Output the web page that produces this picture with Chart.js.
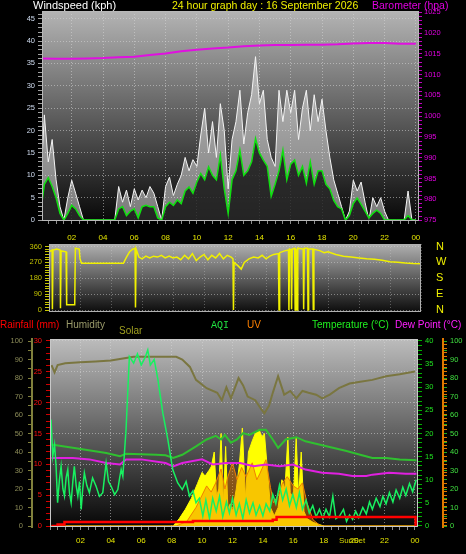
<!DOCTYPE html>
<html>
<head>
<meta charset="utf-8">
<script src="https://cdn.jsdelivr.net/npm/chart.js@4.4.1/dist/chart.umd.min.js"></script>
<style>
  html, body { margin: 0; padding: 0; background: #000; }
  #wrap { position: relative; width: 466px; height: 554px; background: #000; overflow: hidden; font-family: "Liberation Sans", Arial, sans-serif; }
  canvas { position: absolute; left: 0; }
  .t { position: absolute; white-space: nowrap; line-height: 1; }
</style>
</head>
<body>
<div id="wrap">
  <canvas id="windChart" width="466" height="246" style="top:0"></canvas>
  <canvas id="dirChart" width="466" height="88" style="top:236px"></canvas>
  <canvas id="weatherChart" width="466" height="234" style="top:320px"></canvas>

  <div class="t" style="left:33px;top:0;font-size:11px;color:#fff">Windspeed (kph)</div>
  <div class="t" style="left:172px;top:0;font-size:10.5px;color:#f0f000">24 hour graph day : 16 September 2026</div>
  <div class="t" style="left:372px;top:0;font-size:10.5px;color:#e000e0">Barometer (hpa)</div>

  <div class="t" style="left:0;top:320px;font-size:10px;color:#ff0000">Rainfall (mm)</div>
  <div class="t" style="left:66px;top:320px;font-size:10px;color:#9a9a6a">Humidity</div>
  <div class="t" style="left:119px;top:326px;font-size:10px;color:#a0a020">Solar</div>
  <div class="t" style="left:211px;top:321px;font-size:10px;color:#20e040;font-family:'Liberation Mono',monospace">AQI</div>
  <div class="t" style="left:247px;top:320px;font-size:10px;color:#ff8000">UV</div>
  <div class="t" style="left:312px;top:320px;font-size:10px;color:#20f020">Temperature (°C)</div>
  <div class="t" style="left:395px;top:320px;font-size:10px;color:#ff20ff">Dew Point (°C)</div>
  <div class="t" style="left:339px;top:537px;font-size:8px;color:#d8d800">SunSet</div>
</div>
<script>
// 15 minute steps through the day (hours)
const quarterHours = [
  0, 0.25, 0.5, 0.75, 1, 1.25, 1.5, 1.75, 2, 2.25, 2.5, 2.75,
  3, 3.25, 3.5, 3.75, 4, 4.25, 4.5, 4.75, 5, 5.25, 5.5, 5.75,
  6, 6.25, 6.5, 6.75, 7, 7.25, 7.5, 7.75, 8, 8.25, 8.5, 8.75,
  9, 9.25, 9.5, 9.75, 10, 10.25, 10.5, 10.75, 11, 11.25, 11.5, 11.75,
  12, 12.25, 12.5, 12.75, 13, 13.25, 13.5, 13.75, 14, 14.25, 14.5, 14.75,
  15, 15.25, 15.5, 15.75, 16, 16.25, 16.5, 16.75, 17, 17.25, 17.5, 17.75,
  18, 18.25, 18.5, 18.75, 19, 19.25, 19.5, 19.75, 20, 20.25, 20.5, 20.75,
  21, 21.25, 21.5, 21.75, 22, 22.25, 22.5, 22.75, 23, 23.25, 23.5, 23.75,
  24
];

// windspeed (kph)
const gustWind = [
  7, 23.5, 13, 18, 9, 3, 0, 5, 8.9, 6, 3, 0,
  0, 0, 0, 0, 0, 0, 0, 0, 7.5, 4, 6.7, 3,
  7, 4.5, 6.7, 5, 7.5, 6, 3, 0, 7.5, 9.6, 5.5, 8,
  10, 14, 11, 13.5, 12, 19, 25, 15, 22, 14, 26, 20,
  7, 18, 22, 29, 17, 24, 28, 36.5, 26, 29, 18, 14,
  12, 29, 22, 29, 24, 29, 18, 25, 29, 20, 28, 22,
  27, 20, 14, 9, 6, 3, 0, 2, 8.9, 6.5, 8.5, 4,
  0, 5, 3, 5, 2, 0, 0, 0, 0, 0, 6.5, 0,
  0
];
const avgWind = [
  1.5, 8, 9.5, 7.5, 5, 1.5, 0, 1.5, 3.3, 2.5, 1, 0,
  0, 0, 0, 0, 0, 0, 0, 0, 2.5, 3, 1, 2,
  2.5, 0.5, 3, 3.3, 3, 3, 0.5, 0, 3, 4, 3.3, 4.5,
  3.7, 6.5, 7.4, 6, 8.5, 10.4, 9, 11.9, 10, 9, 14.5, 7,
  1.5, 9, 11, 15.6, 10, 11, 13, 18.2, 15, 13.4, 12, 5.3,
  8, 11, 15.6, 9, 12.5, 13.4, 10, 12, 8.2, 13, 8, 11,
  11, 8, 7, 4.4, 3, 2.5, 0, 1, 3.7, 4.9, 3.5, 2,
  0.5, 1.5, 2.2, 1.5, 0, 0, 0, 0, 0, 0, 1, 0,
  0
];
// barometer (hpa), [hour, value]
const barometer = [
  [0, 1013.9], [1, 1013.8], [2, 1013.8], [3, 1013.9], [4, 1014.0], [5, 1014.2],
  [6, 1014.3], [7, 1014.7], [8, 1015.1], [9, 1015.6], [10, 1016.0], [11, 1016.3],
  [12, 1016.5], [13, 1016.8], [14, 1017.0], [15, 1017.1], [16, 1017.1], [17, 1017.2],
  [18, 1017.2], [19, 1017.3], [20, 1017.5], [21, 1017.6], [22, 1017.6], [23, 1017.4],
  [24, 1017.4]
];

// wind direction (degrees), [hour, value]
const windDir = [
  [0, 330], [0.2, 340], [0.22, 5], [0.26, 340], [0.5, 345], [0.72, 340], [0.74, 10], [0.78, 335],
  [1.1, 330], [1.14, 30], [1.66, 30], [1.7, 350], [1.95, 345], [2, 290], [2.1, 265], [4.8, 265],
  [5, 300], [5.2, 330], [5.4, 345], [5.55, 350], [5.58, 15], [5.62, 345], [5.8, 300], [6, 290],
  [6.25, 305], [6.5, 295], [6.75, 305], [7, 300], [7.25, 310], [7.5, 295], [7.75, 305], [8, 295],
  [8.25, 300], [8.5, 285], [8.75, 310], [9, 290], [9.25, 320], [9.5, 280], [9.75, 300], [10, 315],
  [10.25, 285], [10.5, 310], [10.75, 295], [11, 320], [11.25, 290], [11.5, 310], [11.75, 300],
  [11.87, 290], [11.9, 0], [11.94, 270], [12.2, 250], [12.4, 232], [12.6, 270], [12.9, 290],
  [13.2, 300], [13.5, 295], [13.75, 310], [14, 290], [14.25, 305], [14.5, 315], [14.8, 320],
  [14.84, 0], [14.88, 325], [15.2, 335], [15.45, 340], [15.48, 0], [15.52, 345], [15.62, 340],
  [15.65, 5], [15.69, 345], [15.85, 350], [15.88, 0], [15.92, 345], [15.98, 340], [16.01, 0],
  [16.05, 350], [16.4, 345], [16.43, 5], [16.47, 350], [16.68, 350], [16.71, 0], [16.75, 345],
  [17.02, 345], [17.05, 5], [17.09, 345], [17.5, 335], [17.75, 325], [18, 330], [18.5, 315],
  [19, 305], [19.5, 300], [20, 295], [20.5, 290], [21, 287], [21.5, 282], [22, 273],
  [22.5, 270], [23, 266], [23.5, 263], [24, 262]
];
const compassLabels = ['N', 'E', 'S', 'W', 'N'];

// bottom panel, [hour, value]
const humidity = [
  [0.1, 87], [0.3, 83], [0.5, 87], [1, 88], [2, 88.5], [3, 89], [4, 89.5], [4.8, 90.5],
  [5.5, 91.5], [6.5, 91.5], [7.5, 91.5], [8.3, 91.5], [8.7, 90], [9.2, 86], [9.6, 79],
  [10.3, 74.5], [11, 72], [11.3, 68], [11.6, 75], [11.9, 69], [12.4, 80], [12.7, 76],
  [13, 70], [13.5, 68], [13.9, 63], [14.1, 61], [14.4, 65], [14.65, 72], [15, 81],
  [15.4, 71], [15.8, 73], [16.2, 69], [16.6, 73], [17, 72], [17.5, 71], [17.9, 69],
  [18.4, 71], [19, 74.5], [19.7, 77], [20.4, 78], [21.2, 79], [22.1, 81], [23, 82], [24, 83.5]
];
const temperature = [
  [0.1, 17.6], [1.5, 16.9], [3.7, 15.8], [4.6, 15.1], [5, 15.6], [6, 15.5], [7, 15.4],
  [7.6, 15.3], [8.1, 14.7], [8.7, 15.4], [9.6, 17.2], [10.3, 18.7], [10.9, 19.5],
  [11.25, 18.7], [11.5, 19.7], [11.9, 18], [12.3, 18.7], [12.7, 20.1], [13.1, 19.7],
  [13.8, 20.8], [14.2, 20.8], [14.65, 18.7], [15, 16.9], [15.5, 18.7], [16.2, 19.2],
  [16.8, 18.3], [17.7, 17.6], [18.6, 16.9], [19.5, 16.2], [20.4, 15.4], [21.2, 14.7],
  [22.1, 14.7], [23, 14.4], [24.1, 14.2]
];
const dewPoint = [
  [0.1, 14.7], [1.5, 14.7], [2.6, 14.4], [3.7, 13.6], [4.6, 13.3], [5, 14.4], [6, 14.4],
  [7.6, 13.6], [8.1, 12.9], [8.7, 13.6], [10, 14.4], [10.7, 13.3], [11.6, 13.6],
  [12.5, 13.6], [13.4, 12.9], [14.2, 13.3], [15.1, 12.9], [16, 13.3], [16.8, 12.2],
  [17.9, 11.5], [19, 11.3], [19.9, 10.8], [20.8, 10.8], [21.2, 11.1], [22.3, 11.5],
  [23.4, 11.3], [24.1, 11.3]
];
const aqi = [
  [0.07, 57.5], [0.18, 37.7], [0.3, 44], [0.4, 32.3], [0.5, 12.6], [0.62, 25], [0.73, 32.3],
  [0.85, 20], [0.95, 16.2], [1.06, 26], [1.17, 30.5], [1.28, 18], [1.39, 12.6], [1.5, 24],
  [1.6, 32.3], [1.72, 22], [1.83, 16.2], [1.94, 24], [2.05, 9], [2.15, 20], [2.26, 28.7],
  [2.42, 22], [2.59, 18], [2.8, 26], [3.03, 21.5], [3.25, 16], [3.47, 18], [3.69, 34.1],
  [3.85, 24], [4.02, 21.5], [4.25, 17], [4.46, 19.7], [4.58, 26], [4.68, 30.5], [4.79, 26.9],
  [5, 52], [5.22, 91.6], [5.5, 88], [5.75, 93], [6, 87], [6.25, 91], [6.43, 95.2], [6.6, 87],
  [6.85, 90], [7.1, 79], [7.42, 61], [7.75, 46.7], [8.07, 30.5], [8.4, 23.3], [8.7, 19.7],
  [8.95, 24], [9.17, 16.2], [9.4, 19], [9.6, 12.6], [9.82, 15], [10.05, 5.4],
  [10.25, 14], [10.49, 4], [10.7, 15], [10.93, 8], [11.15, 16], [11.36, 5], [11.6, 13],
  [11.8, 7], [12, 15], [12.24, 6], [12.45, 12], [12.68, 4], [12.9, 14], [13.12, 7],
  [13.35, 12.5], [13.55, 6], [13.78, 11], [14, 5.5], [14.21, 12], [14.45, 8], [14.65, 17],
  [14.85, 12], [15.09, 22], [15.3, 14], [15.53, 20], [15.75, 11], [15.97, 17], [16.2, 10],
  [16.4, 18], [16.6, 9], [16.84, 14], [17.05, 7], [17.28, 11], [17.5, 5], [17.72, 9],
  [17.94, 4], [18.15, 9], [18.38, 5], [18.6, 16], [18.8, 4],
  [19.04, 5.4], [19.3, 9], [19.5, 2.5], [19.7, 6], [19.9, 3.6], [20.1, 8], [20.3, 4.5],
  [20.57, 10], [20.8, 6.5], [21.01, 13], [21.2, 9], [21.45, 15], [21.7, 10.5], [21.89, 16],
  [22.1, 12], [22.32, 18], [22.55, 13], [22.76, 19.5], [23, 15], [23.2, 21], [23.4, 16.5],
  [23.64, 23], [23.85, 18.5], [24.08, 25]
];
const solar = [
  [0.1, 0], [8.1, 0], [8.5, 40], [8.9, 90], [9.3, 150], [9.7, 230], [10, 290], [10.2, 270],
  [10.45, 300], [10.6, 320], [10.8, 400], [10.95, 160], [11.1, 200], [11.25, 500],
  [11.4, 120], [11.55, 430], [11.7, 90], [11.85, 120], [12, 80], [12.25, 200], [12.45, 330],
  [12.65, 530], [12.85, 150], [13.05, 400], [13.3, 460], [13.5, 500], [13.75, 520],
  [13.95, 480], [14.1, 500], [14.3, 300], [14.5, 100], [14.75, 55], [15, 100], [15.25, 250],
  [15.45, 200], [15.64, 480], [15.8, 180], [16, 150], [16.19, 480], [16.35, 150],
  [16.52, 400], [16.7, 80], [16.9, 40], [17.3, 20], [17.7, 8], [18, 0], [24.1, 0]
];
const uvIndex = [
  [0.1, 0], [8.3, 0], [9, 0.3], [9.6, 1.2], [10, 2], [10.3, 2.6], [10.6, 2.2], [10.9, 2.8],
  [11.25, 3.7], [11.5, 2.4], [11.7, 3.2], [12, 4.1], [12.3, 3], [12.6, 3.8], [12.9, 3.2],
  [13.3, 4.1], [13.6, 3], [13.8, 3.4], [14.2, 4.3], [14.5, 2.5], [14.7, 1.5], [15, 2],
  [15.3, 2.8], [15.6, 3.2], [16, 2.6], [16.3, 2.4], [16.6, 2.8], [16.9, 1.5], [17.3, 0.4],
  [17.8, 0], [24.1, 0]
];
const rainfall = [
  [0.1, 0], [0.5, 0.25], [0.95, 0.65], [9.4, 0.8], [14.65, 1.0], [14.9, 1.45], [24.04, 0]
];

const GRID = 'rgba(215,215,215,0.55)';
const TICK_FONT = { family: 'Liberation Sans', size: 7.5 };
const X_FONT = { family: 'Liberation Sans', size: 8 };

const isMultiple = (v, m) => Math.abs(v / m - Math.round(v / m)) < 1e-6;
// replace the generated ticks with every multiple of step inside the axis range
const stepTicks = (step) => (s) => {
  const out = [];
  for (let k = Math.ceil(s.min / step - 1e-9); k * step <= s.max + 1e-9; k++) {
    out.push({ value: Math.round(k * step * 1000) / 1000 });
  }
  s.ticks = out;
};
const fixWidth = (w) => (s) => { s.width = w; };
const fixHeight = (h) => (s) => { s.height = h; };
const gridEvery = (m, color) => (c) => (c.tick && isMultiple(c.tick.value, m) ? color : 'transparent');
const labelEvery = (m) => (v) => (isMultiple(v, m) ? String(Math.round(v)) : '');
const hourLabel = (v) => (isMultiple(v, 2) && v > 0 ? String(Math.round(v) % 24).padStart(2, '0') : '');
const toXY = (pairs) => pairs.map(([x, y]) => ({ x, y }));

const plotBg = {
  id: 'plotBg',
  beforeDraw(chart, args, opts) {
    const { ctx, chartArea: a } = chart;
    const g = ctx.createLinearGradient(0, a.top, 0, a.bottom);
    g.addColorStop(0, opts.top);
    g.addColorStop(1, opts.bottom);
    ctx.save();
    ctx.fillStyle = g;
    ctx.fillRect(a.left, a.top, a.right - a.left, a.bottom - a.top);
    ctx.restore();
  },
  afterDraw(chart, args, opts) {
    const { ctx, chartArea: a } = chart;
    ctx.save();
    ctx.strokeStyle = opts.frame;
    ctx.lineWidth = 1;
    ctx.strokeRect(a.left + 0.5, a.top + 0.5, a.right - a.left - 1, a.bottom - a.top - 1);
    ctx.restore();
  }
};

const baseOptions = {
  responsive: false,
  animation: false,
  events: [],
  elements: { point: { radius: 0 }, line: { tension: 0 } },
};

function hourAxis(min, max, height, pad) {
  return {
    type: 'linear', min, max,
    ticks: { autoSkip: false, maxRotation: 0, minRotation: 0, color: '#e4e400', font: X_FONT, padding: pad, callback: hourLabel },
    grid: { color: gridEvery(2, GRID), tickColor: '#8c8c8c', tickLength: 3 },
    border: { display: false, dash: [1, 2] },
    afterBuildTicks: stepTicks(0.5),
    afterFit: fixHeight(height)
  };
}

// ---- windspeed + barometer ----
new Chart(document.getElementById('windChart'), {
  type: 'line',
  data: {
    labels: quarterHours,
    datasets: [
      { label: 'Average', data: avgWind, borderColor: '#10e010', borderWidth: 1.5, backgroundColor: 'rgba(0,0,0,0.7)', fill: 'origin', yAxisID: 'y' },
      { label: 'Gust', data: gustWind, borderColor: '#f4f4f4', borderWidth: 1, backgroundColor: 'rgba(235,235,235,0.5)', fill: 'origin', yAxisID: 'y' },
      { label: 'Barometer', data: toXY(barometer), borderColor: '#e010e0', borderWidth: 2, fill: false, yAxisID: 'baro' }
    ]
  },
  options: {
    ...baseOptions,
    layout: { padding: { top: 11 } },
    plugins: { legend: { display: false }, tooltip: { enabled: false }, plotBg: { top: '#b4b4b4', bottom: '#080808', frame: '#b8b8b8' } },
    scales: {
      x: hourAxis(0.1, 24.2, 25, 9),
      y: {
        position: 'left', min: -0.2, max: 46.7,
        ticks: { autoSkip: false, color: '#d0dcf0', font: TICK_FONT, padding: 3, callback: labelEvery(5) },
        grid: { color: gridEvery(5, GRID), tickColor: '#a0a0a0', tickLength: 4 },
        border: { display: false, dash: [1, 2] },
        afterBuildTicks: stepTicks(1), afterFit: fixWidth(42)
      },
      baro: {
        position: 'right', min: 974.8, max: 1025.3,
        ticks: { autoSkip: false, color: '#e000e0', font: TICK_FONT, padding: 2, callback: labelEvery(5) },
        grid: { drawOnChartArea: false, tickColor: '#c000c0', tickLength: 3 },
        border: { display: false },
        afterBuildTicks: stepTicks(1), afterFit: fixWidth(47)
      }
    }
  },
  plugins: [plotBg]
});

// ---- wind direction ----
new Chart(document.getElementById('dirChart'), {
  type: 'line',
  data: {
    datasets: [
      { label: 'Direction', data: toXY(windDir), borderColor: '#f0f000', borderWidth: 1.5, fill: false }
    ]
  },
  options: {
    ...baseOptions,
    layout: { padding: { top: 8, bottom: 12 } },
    plugins: { legend: { display: false }, tooltip: { enabled: false }, plotBg: { top: '#b0b0b0', bottom: '#0c0c0c', frame: '#b0b0b0' } },
    scales: {
      x: {
        type: 'linear', min: 0, max: 24,
        ticks: { display: false, autoSkip: false },
        grid: { color: gridEvery(2, 'rgba(210,210,210,0.35)'), drawTicks: false },
        border: { display: false, dash: [1, 2] },
        afterBuildTicks: stepTicks(2),
        afterFit: fixHeight(0)
      },
      y: {
        position: 'left', min: -11, max: 374,
        ticks: { autoSkip: false, color: '#c0c000', font: TICK_FONT, padding: 3, callback: labelEvery(90) },
        grid: { color: gridEvery(90, 'rgba(210,210,210,0.5)'), tickColor: '#c8c800', tickLength: 4 },
        border: { display: false, dash: [1, 2] },
        afterBuildTicks: stepTicks(15), afterFit: fixWidth(49)
      },
      compass: {
        position: 'right', min: -11, max: 374,
        ticks: { autoSkip: false, color: '#f0f000', font: { family: 'Liberation Sans', size: 11 }, padding: 0, callback: (v) => compassLabels[Math.round(v / 90)] || '' },
        grid: { drawOnChartArea: false, drawTicks: true, tickLength: 15, tickColor: 'transparent' },
        border: { display: false },
        afterBuildTicks: stepTicks(90), afterFit: fixWidth(45)
      }
    }
  },
  plugins: [plotBg]
});

// ---- rain / humidity / solar / AQI / UV / temperature / dew point ----
new Chart(document.getElementById('weatherChart'), {
  type: 'line',
  data: {
    datasets: [
      { label: 'Rainfall', data: toXY(rainfall), borderColor: '#ff0000', borderWidth: 2.5, stepped: true, fill: false, yAxisID: 'rain' },
      { label: 'AQI', data: toXY(aqi), borderColor: '#18f060', borderWidth: 1.5, fill: false, yAxisID: 'aqi' },
      { label: 'Dew Point', data: toXY(dewPoint), borderColor: '#e020e0', borderWidth: 2, fill: false, yAxisID: 'temp' },
      { label: 'Temperature', data: toXY(temperature), borderColor: '#30c030', borderWidth: 2, fill: false, yAxisID: 'temp' },
      { label: 'Humidity', data: toXY(humidity), borderColor: '#7a7640', borderWidth: 2, fill: false, yAxisID: 'hum' },
      { label: 'UV', data: toXY(uvIndex), borderColor: '#f08000', borderWidth: 1, backgroundColor: 'rgba(240,128,0,0.45)', fill: 'origin', yAxisID: 'uv' },
      { label: 'Solar', data: toXY(solar), borderColor: '#ffff00', borderWidth: 1, backgroundColor: '#ffff00', fill: 'origin', yAxisID: 'solar' }
    ]
  },
  options: {
    ...baseOptions,
    layout: { padding: { top: 19 } },
    plugins: { legend: { display: false }, tooltip: { enabled: false }, plotBg: { top: '#bcbcbc', bottom: '#060606', frame: '#c8c8c8' } },
    scales: {
      x: hourAxis(0, 24.2, 27, 6),
      hum: {
        position: 'left', weight: 1, min: -0.54, max: 101.1,
        ticks: { autoSkip: false, color: '#8c8c58', font: TICK_FONT, padding: 5, callback: labelEvery(10) },
        grid: { drawOnChartArea: false, tickColor: '#80803c', tickLength: 4 },
        border: { display: true, color: '#80803c', width: 2 },
        afterBuildTicks: stepTicks(5), afterFit: fixWidth(32)
      },
      rain: {
        position: 'left', weight: 0, min: -0.16, max: 30.32,
        ticks: { autoSkip: false, color: '#ff1010', font: TICK_FONT, padding: 4, callback: labelEvery(5) },
        grid: { color: gridEvery(5, GRID), tickColor: '#d00000', tickLength: 4 },
        border: { display: false, dash: [1, 2] },
        afterBuildTicks: stepTicks(1), afterFit: fixWidth(18)
      },
      temp: {
        position: 'right', weight: 0, min: -0.22, max: 40.43,
        ticks: { autoSkip: false, color: '#20e020', font: TICK_FONT, padding: 3, callback: labelEvery(5) },
        grid: { drawOnChartArea: false, tickColor: '#00b000', tickLength: 4 },
        border: { display: false },
        afterBuildTicks: stepTicks(1), afterFit: fixWidth(25)
      },
      uv: {
        position: 'right', weight: 1, min: -0.065, max: 12.13,
        ticks: { autoSkip: false, color: '#ff8800', font: TICK_FONT, padding: 3, callback: labelEvery(1) },
        grid: { drawOnChartArea: false, tickColor: '#e07800', tickLength: 4 },
        border: { display: true, color: '#e07800', width: 2 },
        afterBuildTicks: stepTicks(0.25), afterFit: fixWidth(0)
      },
      aqi: {
        position: 'right', weight: 2, min: -0.54, max: 101.1,
        ticks: { autoSkip: false, color: '#40e040', font: TICK_FONT, padding: 3, callback: labelEvery(10) },
        grid: { drawOnChartArea: false, tickColor: '#20b020', tickLength: 4 },
        border: { display: false },
        afterBuildTicks: stepTicks(5), afterFit: fixWidth(23)
      },
      solar: { display: false, min: -5.4, max: 1011 }
    }
  },
  plugins: [plotBg]
});
</script>
</body>
</html>
